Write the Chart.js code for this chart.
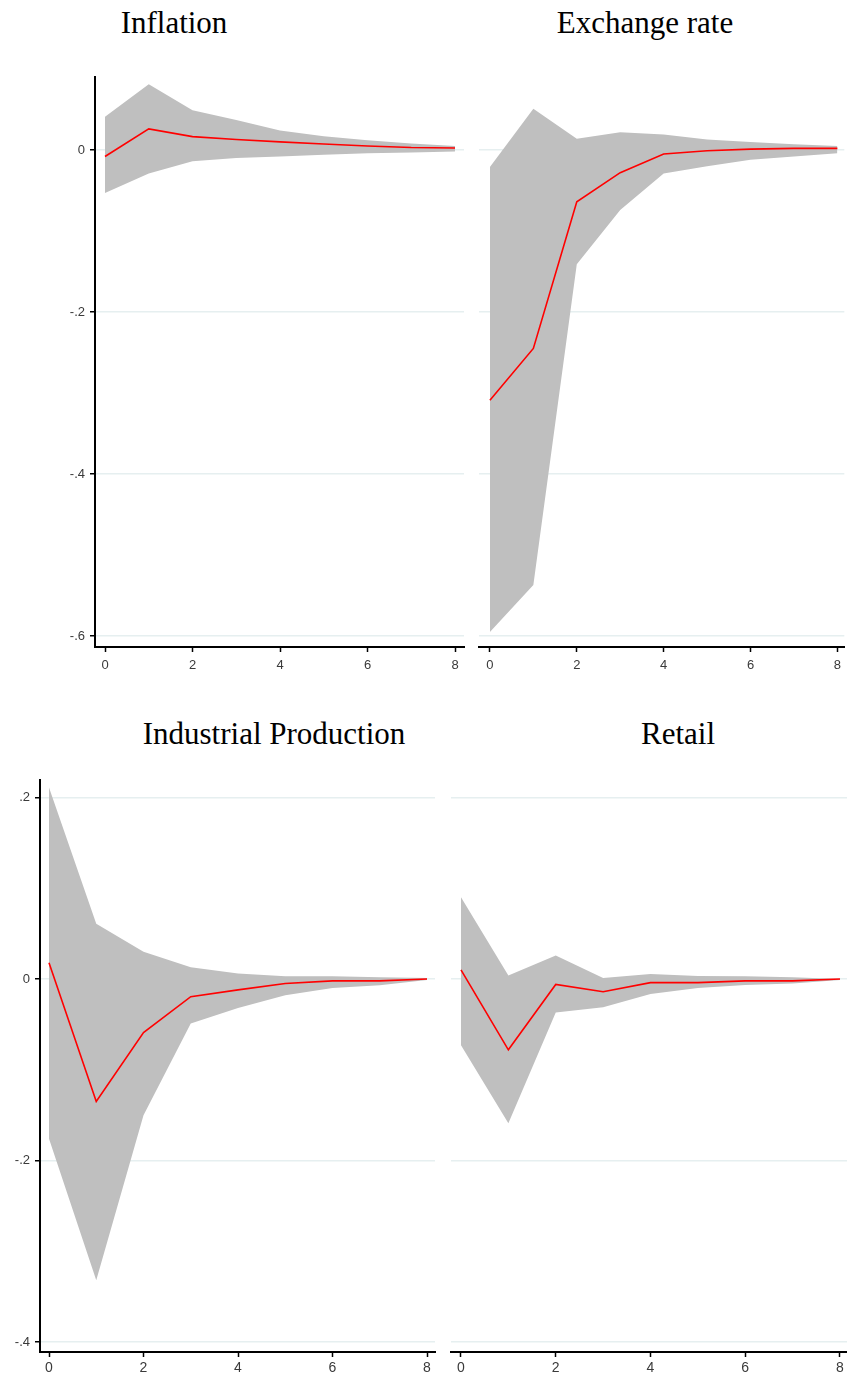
<!DOCTYPE html>
<html>
<head>
<meta charset="utf-8">
<script src="https://cdn.jsdelivr.net/npm/chart.js@4/dist/chart.umd.min.js"></script>
<style>
  html, body { margin: 0; padding: 0; background: #ffffff; }
  body { position: relative; width: 847px; height: 1378px; overflow: hidden; }
  canvas { position: absolute; }
  .ttl {
    position: absolute;
    font-family: "Liberation Serif", "Times New Roman", serif;
    font-size: 31px;
    line-height: 31px;
    color: #000;
    white-space: nowrap;
    transform: translateX(-50%);
  }
</style>
</head>
<body>
<div class="ttl" style="left:174px; top:7px;">Inflation</div>
<div class="ttl" style="left:645px; top:7px;">Exchange rate</div>
<div class="ttl" style="left:274px; top:718px;">Industrial Production</div>
<div class="ttl" style="left:678px; top:718px;">Retail</div>

<canvas id="cInfl" width="470" height="630" style="left:0px; top:60px; width:470px; height:630px;"></canvas>
<canvas id="cExch" width="377" height="630" style="left:470px; top:60px; width:377px; height:630px;"></canvas>
<canvas id="cInd"  width="445" height="618" style="left:0px; top:760px; width:445px; height:618px;"></canvas>
<canvas id="cRet"  width="402" height="618" style="left:445px; top:760px; width:402px; height:618px;"></canvas>

<script>
// Horizons (steps after the shock)
const horizons = [0, 1, 2, 3, 4, 5, 6, 7, 8];
const xTicks = [0, 2, 4, 6, 8];

// Inflation response with confidence band
const inflationIrf   = [-0.008, 0.026, 0.0165, 0.013, 0.010, 0.0074, 0.005, 0.003, 0.0025];
const inflationUpper = [0.041, 0.081, 0.049, 0.037, 0.024, 0.017, 0.012, 0.008, 0.005];
const inflationLower = [-0.053, -0.029, -0.014, -0.010, -0.008, -0.006, -0.004, -0.003, -0.002];

// Exchange rate response with confidence band
const exchangeIrf   = [-0.309, -0.245, -0.064, -0.028, -0.005, -0.001, 0.001, 0.002, 0.002];
const exchangeUpper = [-0.021, 0.051, 0.014, 0.022, 0.019, 0.013, 0.010, 0.007, 0.005];
const exchangeLower = [-0.595, -0.537, -0.141, -0.074, -0.029, -0.020, -0.012, -0.008, -0.004];

// Industrial production response with confidence band
const industryIrf   = [0.018, -0.135, -0.059, -0.0195, -0.012, -0.005, -0.002, -0.002, 0.000];
const industryUpper = [0.211, 0.061, 0.030, 0.013, 0.006, 0.003, 0.003, 0.002, 0.001];
const industryLower = [-0.176, -0.332, -0.150, -0.049, -0.032, -0.018, -0.010, -0.007, -0.001];

// Retail response with confidence band
const retailIrf   = [0.010, -0.078, -0.006, -0.014, -0.004, -0.004, -0.002, -0.002, 0.000];
const retailUpper = [0.090, 0.004, 0.026, 0.001, 0.0055, 0.0033, 0.003, 0.002, 0.000];
const retailLower = [-0.073, -0.159, -0.037, -0.031, -0.0165, -0.010, -0.0066, -0.005, -0.001];

// Y tick values and their labels for each row
const yTicksTop  = [0, -0.2, -0.4, -0.6];
const yLabelsTop = ['0', '-.2', '-.4', '-.6'];
const yTicksBottom  = [0.2, 0, -0.2, -0.4];
const yLabelsBottom = ['.2', '0', '-.2', '-.4'];

const BAND_COLOR = '#bfbfbf';
const LINE_COLOR = '#ff0000';
const GRID_COLOR = '#e6eff0';
const TICK_TEXT = '#3a3a3a';

function toPoints(values) {
  return horizons.map((h, i) => ({ x: h, y: values[i] }));
}

function makePanel(id, irf, upper, lower, o) {
  const ctx = document.getElementById(id);
  return new Chart(ctx, {
    type: 'line',
    data: {
      datasets: [
        {
          data: toPoints(irf),
          borderColor: LINE_COLOR,
          borderWidth: 1.6,
          pointRadius: 0,
          tension: 0,
          fill: false
        },
        {
          data: toPoints(upper),
          borderWidth: 0,
          borderColor: 'rgba(0,0,0,0)',
          backgroundColor: BAND_COLOR,
          pointRadius: 0,
          tension: 0,
          fill: '+1'
        },
        {
          data: toPoints(lower),
          borderWidth: 0,
          borderColor: 'rgba(0,0,0,0)',
          pointRadius: 0,
          tension: 0,
          fill: false
        }
      ]
    },
    options: {
      responsive: false,
      maintainAspectRatio: false,
      animation: false,
      devicePixelRatio: 1,
      events: [],
      layout: { padding: { top: o.padTop, right: o.padRight, bottom: 0, left: 0 } },
      plugins: {
        legend: { display: false },
        tooltip: { enabled: false },
        title: { display: false }
      },
      scales: {
        x: {
          type: 'linear',
          min: o.xMin,
          max: o.xMax,
          afterBuildTicks: (s) => { s.ticks = xTicks.map(v => ({ value: v })); },
          afterFit: (s) => { s.height = o.xHeight; },
          grid: {
            drawOnChartArea: false,
            drawTicks: true,
            tickLength: 5,
            tickColor: '#000',
            tickWidth: 1.5
          },
          border: { display: true, color: '#000', width: 2 },
          ticks: {
            autoSkip: false,
            maxRotation: 0,
            padding: o.xPad,
            color: TICK_TEXT,
            font: { family: 'Liberation Sans, Arial, sans-serif', size: o.xFont },
            callback: (v) => String(v)
          }
        },
        y: {
          type: 'linear',
          min: o.yMin,
          max: o.yMax,
          afterBuildTicks: (s) => { s.ticks = o.yTicks.map(v => ({ value: v })); },
          afterFit: (s) => { s.width = o.yWidth; },
          grid: {
            drawOnChartArea: true,
            color: GRID_COLOR,
            lineWidth: 1.5,
            drawTicks: o.showAxis,
            tickLength: 5,
            tickColor: '#000',
            tickWidth: 1.5
          },
          border: { display: o.showAxis, color: '#000', width: 2 },
          ticks: {
            display: o.showAxis,
            padding: 5,
            color: TICK_TEXT,
            font: { family: 'Liberation Sans, Arial, sans-serif', size: 13 },
            callback: (v) => {
              const k = o.yTicks.findIndex(t => Math.abs(t - v) < 1e-9);
              return k >= 0 ? o.yLabels[k] : '';
            }
          }
        }
      }
    }
  });
}

const topRow = { yMin: -0.6136, yMax: 0.0901, yTicks: yTicksTop, yLabels: yLabelsTop,
                 padTop: 17, xHeight: 43, xPad: 6, xFont: 13 };
const bottomRow = { yMin: -0.411, yMax: 0.2193, yTicks: yTicksBottom, yLabels: yLabelsBottom,
                    padTop: 20, xHeight: 26, xPad: 3, xFont: 14 };

makePanel('cInfl', inflationIrf, inflationUpper, inflationLower,
  Object.assign({}, topRow, { xMin: -0.2286, xMax: 8.2057, yWidth: 95, padRight: 6, showAxis: true }));
makePanel('cExch', exchangeIrf, exchangeUpper, exchangeLower,
  Object.assign({}, topRow, { xMin: -0.2514, xMax: 8.16, yWidth: 9, padRight: 0, showAxis: false }));
makePanel('cInd', industryIrf, industryUpper, industryLower,
  Object.assign({}, bottomRow, { xMin: -0.1905, xMax: 8.169, yWidth: 40, padRight: 10, showAxis: true }));
makePanel('cRet', retailIrf, retailUpper, retailLower,
  Object.assign({}, bottomRow, { xMin: -0.211, xMax: 8.148, yWidth: 6, padRight: 0, showAxis: false }));
</script>
</body>
</html>
